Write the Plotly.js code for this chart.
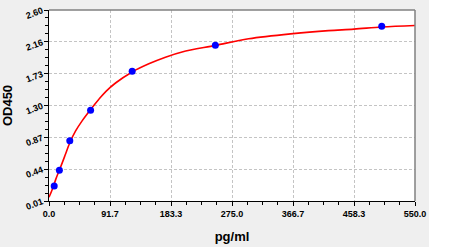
<!DOCTYPE html>
<html>
<head>
<meta charset="utf-8">
<script src="https://cdn.plot.ly/plotly-3.0.1.min.js"></script>
<style>
html,body{margin:0;padding:0;background:#ffffff;}
#chart{width:429px;height:247px;}
</style>
</head>
<body>
<div id="chart"></div>
<script>
// Standard points (concentration pg/ml, OD450)
const stdConc = [7.8, 15.6, 31.25, 62.5, 125, 250, 500];
const stdOD   = [0.214, 0.426, 0.826, 1.239, 1.769, 2.123, 2.38];

// Fitted curve
const curveConc = [0, 5, 10, 15.6, 20, 25, 31.25, 40, 50, 62.5, 75, 86, 100, 125, 150, 175, 200, 250, 300, 366.7, 420, 458.3, 500, 550];
const curveOD   = [0.06, 0.17, 0.30, 0.43, 0.53, 0.65, 0.80, 0.96, 1.10, 1.25, 1.39, 1.50, 1.61, 1.76, 1.87, 1.96, 2.03, 2.12, 2.21, 2.28, 2.32, 2.34, 2.37, 2.39];

// Axis ticks
const yTickText = ['0.01', '0.44', '0.87', '1.30', '1.73', '2.16', '2.60'];
const xTickText = ['0.0', '91.7', '183.3', '275.0', '366.7', '458.3', '550.0'];
const yRange = [0.01, 2.60];
const xRange = [0, 550];

const yStep = (yRange[1] - yRange[0]) / (yTickText.length - 1);
const yTickVals = yTickText.map((t, i) => yRange[0] + i * yStep);
const xStep = (xRange[1] - xRange[0]) / (xTickText.length - 1);
const xTickVals = xTickText.map((t, i) => xRange[0] + i * xStep);

const traces = [
  {
    x: curveConc, y: curveOD, type: 'scatter', mode: 'lines',
    line: {color: '#ff0000', width: 1.6, shape: 'spline'},
    hoverinfo: 'skip', showlegend: false
  },
  {
    x: stdConc, y: stdOD, type: 'scatter', mode: 'markers',
    marker: {color: '#0000ff', size: 7},
    showlegend: false
  }
];

const tickFont = {family: 'Liberation Sans, Arial, sans-serif', size: 9, color: '#000000', weight: 'bold'};

const layout = {
  width: 429, height: 247,
  paper_bgcolor: '#efefef',
  plot_bgcolor: '#ffffff',
  margin: {l: 49, r: 14, t: 10, b: 46},
  showlegend: false,
  xaxis: {
    range: xRange,
    tickmode: 'array', tickvals: xTickVals, ticktext: xTickText,
    ticks: 'outside', ticklen: 4, tickcolor: '#000', tickwidth: 1,
    minor: {tickmode: 'linear', tick0: 0, dtick: xStep / 4, ticks: 'outside', ticklen: 3, tickcolor: '#000', showgrid: false},
    showline: true, linecolor: '#000000', linewidth: 1,
    mirror: false,
    showgrid: true, gridcolor: '#c4c4c4', griddash: '3px,2px', gridwidth: 1,
    zeroline: false,
    tickfont: tickFont,
    title: {text: 'pg/ml', font: {family: 'Liberation Sans, Arial, sans-serif', size: 13, color: '#000', weight: 'bold'}, standoff: 14}
  },
  yaxis: {
    range: yRange,
    tickmode: 'array', tickvals: yTickVals, ticktext: yTickText,
    ticks: 'outside', ticklen: 4, tickcolor: '#000', tickwidth: 1,
    minor: {tickmode: 'linear', tick0: yRange[0], dtick: yStep / 4, ticks: 'outside', ticklen: 3, tickcolor: '#000', showgrid: false},
    showline: true, linecolor: '#000000', linewidth: 1,
    showgrid: true, gridcolor: '#c4c4c4', griddash: '3px,2px', gridwidth: 1,
    zeroline: false,
    tickangle: -20,
    tickfont: tickFont,
    title: {text: 'OD450', font: {family: 'Liberation Sans, Arial, sans-serif', size: 13, color: '#000', weight: 'bold'}, standoff: 8}
  },
  shapes: [
    {type: 'line', xref: 'paper', yref: 'paper', x0: 0, x1: 1, y0: 1, y1: 1, line: {color: '#808080', width: 1.5}},
    {type: 'line', xref: 'paper', yref: 'paper', x0: 1, x1: 1, y0: 0, y1: 1, line: {color: '#808080', width: 1.5}}
  ]
};

Plotly.newPlot('chart', traces, layout, {displayModeBar: false, staticPlot: true});
</script>
</body>
</html>
